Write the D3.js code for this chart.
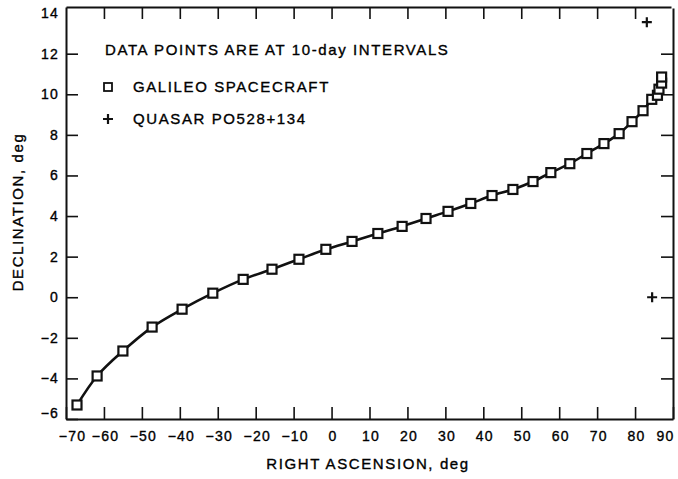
<!DOCTYPE html>
<html lang="en">
<head>
    <meta charset="UTF-8">
    <title>Galileo declination</title>
    <script src="https://d3js.org/d3.v7.min.js"></script>
    <style>
        body { margin: 0; background: #fff; }
        text {
            font-family: 'Liberation Sans', Arial, sans-serif;
            fill: #000;
            stroke: #000;
            stroke-width: 0.35px;
        }
        .tick text { font-size: 14px; letter-spacing: 1.2px; }
        .title { font-size: 15px; letter-spacing: 1.6px; }
    </style>
</head>
<body>

<script>
    const width  = 678;
    const height = 479;

    // Galileo spacecraft track, 10-day intervals
    const raDeg  = [-67.1, -61.8, -55.0, -47.3, -39.4, -31.3, -23.3, -15.7, -8.6, -1.5,
                     5.4, 12.2, 18.6, 24.9, 30.7, 36.7, 42.3, 47.8, 53.1, 57.8,
                     62.8, 67.3, 71.8, 75.8, 79.2, 82.1, 84.4, 85.9, 86.3, 87.0, 87.0];
    const decDeg = [-5.31, -3.88, -2.65, -1.47, -0.59, 0.20, 0.88, 1.38, 1.87, 2.36,
                     2.75, 3.14, 3.49, 3.88, 4.23, 4.62, 5.01, 5.31, 5.70, 6.14,
                     6.58, 7.08, 7.57, 8.06, 8.65, 9.19, 9.75, 9.95, 10.25, 10.55, 10.85];

    // quasar PO528+134 positions
    const quasarRa  = [83.1, 84.5];
    const quasarDec = [13.55, 0.0];

    const xTicks = [-70, -60, -50, -40, -30, -20, -10, 0, 10, 20, 30, 40, 50, 60, 70, 80, 90];
    const yTicks = [-6, -4, -2, 0, 2, 4, 6, 8, 10, 12, 14];

    const legendLines = ["DATA POINTS ARE AT 10-day INTERVALS", "GALILEO SPACECRAFT", "QUASAR PO528+134"];

    const x = d3.scaleLinear().domain([-70, 90]).range([66, 673]);
    const y = d3.scaleLinear().domain([-6, 14.3]).range([419, 7]);

    const tickLen = 12;
    const ink = "#111";

    const svg = d3.select("body")
                  .append("svg").attr("width", width).attr("height", height);

    function styleAxis(g) {
        g.attr("font-size", null).attr("font-family", null);
        g.select(".domain").attr("stroke", ink).attr("stroke-width", 2);
        g.selectAll(".tick line").attr("stroke", ink).attr("stroke-width", 1.6);
    }

    // bottom and left axes carry the labels
    const gB = svg.append("g")
                  .attr("transform", "translate(0," + y(-6) + ")")
                  .call(d3.axisBottom(x).tickValues(xTicks)
                          .tickSizeInner(-tickLen).tickSizeOuter(0).tickPadding(12));
    styleAxis(gB);
    gB.selectAll(".tick text").attr("dx", d => d === -70 ? 6 : d === 90 ? -8 : 1);

    const gL = svg.append("g")
                  .attr("transform", "translate(" + x(-70) + ",0)")
                  .call(d3.axisLeft(y).tickValues(yTicks)
                          .tickSizeInner(-tickLen).tickSizeOuter(0).tickPadding(7));
    styleAxis(gL);
    gL.selectAll(".tick text").attr("y", d => d === -6 ? -6 : 0);
    gL.selectAll(".tick line").attr("stroke-opacity", d => d === 14 ? 0 : 1);

    // top and right axes: ticks only, domain lines drawn with a hairline gap at the corner
    const gT = svg.append("g")
                  .attr("transform", "translate(0," + y(14.3) + ")")
                  .call(d3.axisTop(x).tickValues(xTicks.slice(1, -1))
                          .tickSizeInner(-tickLen).tickSizeOuter(0).tickFormat(""));
    styleAxis(gT);
    gT.select(".domain").attr("d", "M" + (x(-70) + 0.5) + ",0.5H" + (x(90) - 1.5));

    const gR = svg.append("g")
                  .attr("transform", "translate(" + x(90) + ",0)")
                  .call(d3.axisRight(y).tickValues(yTicks.slice(1, -1))
                          .tickSizeInner(-tickLen).tickSizeOuter(0).tickFormat(""));
    styleAxis(gR);
    gR.select(".domain").attr("d", "M0.5," + (y(14.3) + 1.5) + "V" + (y(-6) + 0.5));

    // axis titles
    svg.append("text").attr("class", "title")
       .attr("x", 368).attr("y", 469)
       .attr("text-anchor", "middle")
       .text("RIGHT ASCENSION, deg");

    svg.append("text").attr("class", "title")
       .attr("transform", "translate(23,212) rotate(-90)")
       .attr("text-anchor", "middle")
       .text("DECLINATION, deg");

    // spacecraft track
    const track = raDeg.map((d, i) => [d, decDeg[i]]);

    const trackLine = d3.line()
                        .x(d => x(d[0]))
                        .y(d => y(d[1]))
                        .curve(d3.curveCatmullRom);

    svg.append("path").datum(track)
       .attr("d", trackLine)
       .attr("fill", "none")
       .attr("stroke", ink)
       .attr("stroke-width", 2.6);

    const sq = 9;
    svg.append("g").selectAll("rect").data(track).join("rect")
       .attr("x", d => x(d[0]) - sq / 2)
       .attr("y", d => y(d[1]) - sq / 2)
       .attr("width", sq).attr("height", sq)
       .attr("fill", "#fff")
       .attr("stroke", ink)
       .attr("stroke-width", 2.2);

    // quasar marks
    function cross(g, cx, cy, r) {
        g.append("path")
         .attr("d", "M" + (cx - r) + "," + cy + "H" + (cx + r) + "M" + cx + "," + (cy - r) + "V" + (cy + r))
         .attr("fill", "none")
         .attr("stroke", ink).attr("stroke-width", 2.2);
    }

    const quasar = quasarRa.map((d, i) => [d, quasarDec[i]]);
    const qg = svg.append("g");
    quasar.forEach(d => cross(qg, x(d[0]), y(d[1]), 5));

    // legend
    svg.append("text").attr("class", "title")
       .attr("x", 105).attr("y", 55)
       .text(legendLines[0]);

    svg.append("rect")
       .attr("x", 108 - 4).attr("y", 87 - 4)
       .attr("width", 8).attr("height", 8)
       .attr("fill", "#fff").attr("stroke", ink).attr("stroke-width", 1.8);

    svg.append("text").attr("class", "title")
       .attr("x", 133).attr("y", 92)
       .text(legendLines[1]);

    cross(svg, 108, 119, 5);

    svg.append("text").attr("class", "title")
       .attr("x", 133).attr("y", 124)
       .text(legendLines[2]);
</script>

</body>
</html>
